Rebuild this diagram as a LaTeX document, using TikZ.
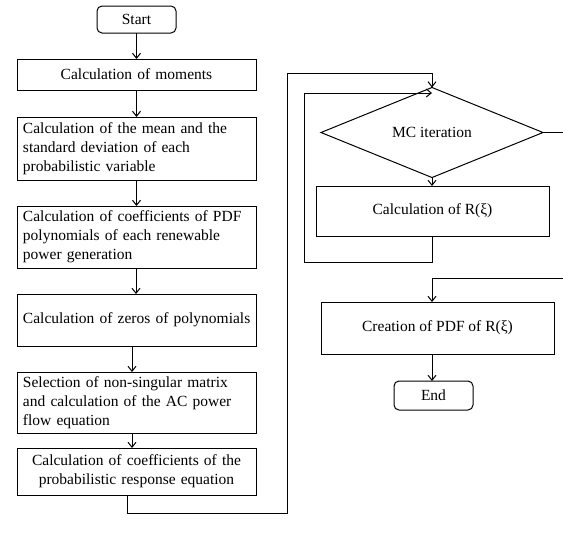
\documentclass[tikz,border=0pt]{standalone}
\usepackage{fontspec}
\setmainfont{Liberation Serif}
\usetikzlibrary{shapes.geometric,arrows.meta}
\begin{document}
\begin{tikzpicture}[x=1pt,y=-1pt,
  every node/.style={font=\fontsize{15.5}{19}\selectfont, inner sep=0pt, outer sep=0pt},
  proc/.style={draw, line width=1pt, minimum width=239pt, text width=227pt},
  procl/.style={proc, align=left},
  procc/.style={proc, align=center},
  term/.style={draw, line width=1pt, rounded corners=5pt, minimum width=79pt},
  dec/.style={draw, line width=1pt, diamond, minimum width=222pt, minimum height=51pt, inner sep=0pt},
  conn/.style={line width=1pt},
  arr/.style={conn, -{Straight Barb[length=5pt,width=8pt]}}]
\useasboundingbox (0,0) rectangle (563,536);

\node[term, minimum height=27pt] (start) at (136.5,19.5) {Start};
\node[procc, minimum height=31pt] (b1) at (136.5,74.5) {Calculation of moments};
\node[procl, minimum height=63pt] (b2) at (136.5,148.5) {Calculation of the mean and the\\standard deviation of each\\probabilistic variable};
\node[procl, minimum height=62pt] (b3) at (136.5,237) {Calculation of coefficients of PDF\\polynomials of each renewable\\power generation};
\node[procl, minimum height=52pt] (b4) at (136.5,320) {\mbox{Calculation of zeros of polynomials}};
\node[procl, minimum height=61pt] (b5) at (136.5,402.5) {Selection of non-singular matrix\\and calculation of the AC power\\flow equation};
\node[procc, minimum height=47pt] (b6) at (136.5,471.5) {Calculation of coefficients of the\\probabilistic response equation};

\node[dec] (dia) at (432,132.5) {MC iteration};
\node[draw, line width=1pt, minimum width=233pt, minimum height=50pt] (r) at (432.5,211) {Calculation of R(ξ)};
\node[draw, line width=1pt, minimum width=233pt, minimum height=52pt] (c) at (437.5,328) {Creation of PDF of R(ξ)};
\node[term, minimum height=29pt] (end) at (433.5,395.5) {End};

\draw[arr] (start.south) -- (b1.north);
\draw[arr] (b1.south) -- (b2.north);
\draw[arr] (b2.south) -- (b3.north);
\draw[arr] ([xshift=-0.5pt]b3.south) -- ([xshift=-0.5pt]b4.north);
\draw[arr] ([xshift=-4.5pt]b4.south) -- ([xshift=-4.5pt]b5.north);
\draw[arr] ([xshift=-4.5pt]b5.south) -- ([xshift=-4.5pt]b6.north);

\coordinate (o1) at (127,513);
\coordinate (o2) at (287,513);
\coordinate (o3) at (287,73);
\coordinate (o4) at (432,73);
\draw[arr] ([xshift=-9.5pt]b6.south) -- (o1) -- (o2) -- (o3) -- (o4) -- (dia.north);

\draw[arr] (dia.south) -- (r.north -| dia.south);

\coordinate (i1) at (432,262);
\coordinate (i2) at (304,262);
\coordinate (i3) at (304,93);
\coordinate (i4) at (432,93);
\draw[arr] (r.south -| dia.south) -- (i1) -- (i2) -- (i3) -- (i4);

\coordinate (e1) at (572,132.5);
\coordinate (e2) at (572,278);
\coordinate (e3) at (432,278);
\draw[conn] (dia.east) -- (e1);
\draw[arr] (e2) -- (e3) -- (c.north -| e3);

\draw[arr] (c.south -| e3) -- (end.north -| e3);
\end{tikzpicture}
\end{document}
